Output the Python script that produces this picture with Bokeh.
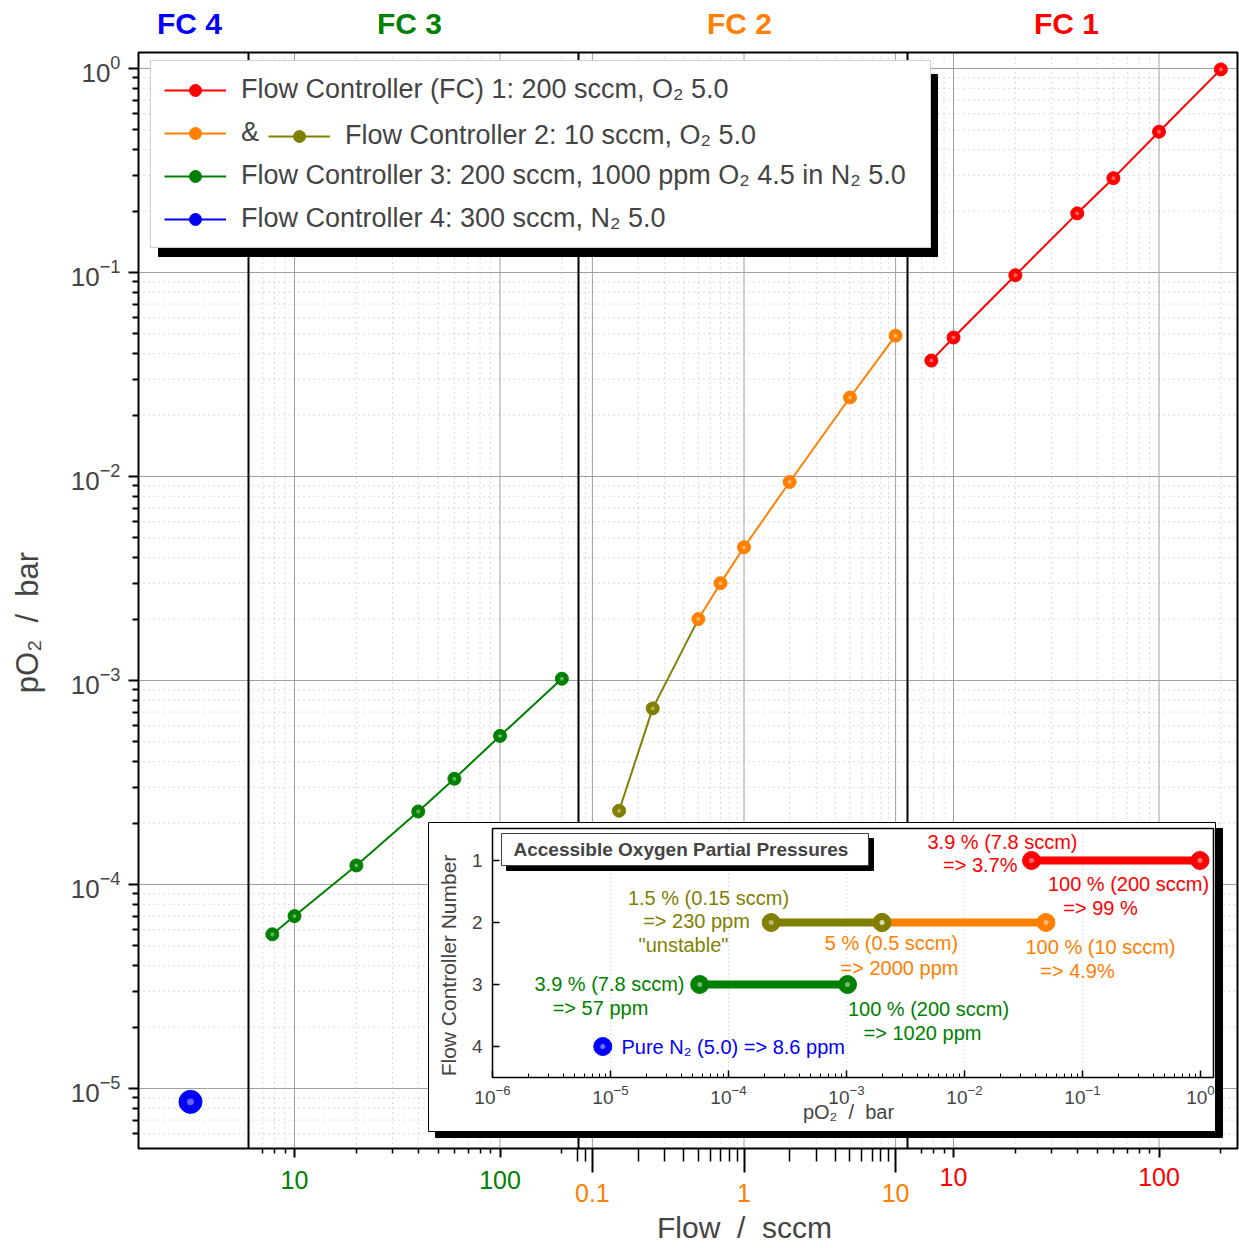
import math
from bokeh.plotting import figure
from bokeh.models import (Range1d, LogScale, LinearScale, LogAxis, LinearAxis, FixedTicker,
                          Label, Legend, LegendItem, ColumnDataSource)
from bokeh.embed import file_html
from bokeh.resources import INLINE
from bokeh.core.properties import value

FONT = "Liberation Sans"
RED, ORANGE, OLIVE, GREEN, BLUE = "#ff0000", "#ff8000", "#808000", "#008000", "#0000ff"
GRID, MINOR = "#a0a0a0", "#b4b4b4"
NB = "\u00a0"

# ---------------- data ----------------
fc1_flow = [7.8, 10, 20, 40, 60, 100, 200]
fc1_po2 = [0.037, 0.048, 0.097, 0.195, 0.29, 0.49, 0.99]
fc2_flow = [0.5, 0.7, 1, 2, 5, 10]
fc2_po2 = [0.0020, 0.0030, 0.0045, 0.0094, 0.0244, 0.049]
fc2u_flow = [0.15, 0.25, 0.5]            # "unstable" low-flow part of FC 2
fc2u_po2 = [0.00023, 0.00073, 0.0020]
fc3_flow = [7.8, 10, 20, 40, 60, 100, 200]
fc3_po2 = [5.7e-5, 7.0e-5, 1.24e-4, 2.28e-4, 3.3e-4, 5.35e-4, 1.02e-3]
fc4_flow = [300]
fc4_po2 = [8.6e-6]

legend_labels = ["Flow Controller (FC) 1: 200 sccm, O\u2082 5.0",
                 "&",
                 "Flow Controller 3: 200 sccm, 1000 ppm O\u2082 4.5 in N\u2082 5.0",
                 "Flow Controller 4: 300 sccm, N\u2082 5.0"]
legend_label_fc2 = "Flow Controller 2: 10 sccm, O\u2082 5.0"
fc_titles = ["FC 4", "FC 3", "FC 2", "FC 1"]
x_title = "Flow" + NB + " / " + NB + "sccm"
y_title = "pO\u2082" + NB + " / " + NB + "bar"

y_ticks = [1e-5, 1e-4, 1e-3, 1e-2, 1e-1, 1.0]
fc3_ticks, fc3_tick_labels = [10, 100], ["10", "100"]
fc2_ticks, fc2_tick_labels = [0.1, 1, 10], ["0.1", "1", "10"]
fc1_ticks, fc1_tick_labels = [10, 100], ["10", "100"]
inset_x_ticks = [1e-6, 1e-5, 1e-4, 1e-3, 1e-2, 1e-1, 1.0]
inset_fc_numbers = [1, 2, 3, 4]
inset_title = "Accessible Oxygen Partial Pressures"
inset_x_title = "pO\u2082" + NB + " / " + NB + "bar"
inset_y_title = "Flow Controller Number"
inset_notes = [
    ("3.9 % (7.8 sccm)", 1002, 841, "center", RED),
    ("=> 3.7%", 1017, 864, "right", RED),
    ("100 % (200 sccm)", 1128, 883, "center", RED),
    ("=> 99 %", 1100, 907, "center", RED),
    ("1.5 % (0.15 sccm)", 708, 897, "center", OLIVE),
    ("=> 230 ppm", 696, 920, "center", OLIVE),
    ('"unstable"', 683, 944, "center", OLIVE),
    ("5 % (0.5 sccm)", 891, 942, "center", ORANGE),
    ("=> 2000 ppm", 899, 967, "center", ORANGE),
    ("100 % (10 sccm)", 1100, 946, "center", ORANGE),
    ("=> 4.9%", 1077, 970, "center", ORANGE),
    ("3.9 % (7.8 sccm)", 684, 983, "right", GREEN),
    ("=> 57 ppm", 600, 1007, "center", GREEN),
    ("100 % (200 sccm)", 928, 1008, "center", GREEN),
    ("=> 1020 ppm", 922, 1032, "center", GREEN),
    ("Pure N\u2082 (5.0) => 8.6 ppm", 621, 1046, "left", BLUE),
]

# ---------------- layout (page pixels; the frame covers the whole canvas) ----------------
W, H = 1239, 1248
FL, FT, FR, FB = 138, 52, 1237, 1148          # plot box
Y_DEC_PX, Y_ONE_PX = 204.0, 68
def y_at(py):
    return 10 ** ((Y_ONE_PX - py) / Y_DEC_PX)
Y_LO, Y_HI = y_at(FB), y_at(FT)

def log_range(anchor_px, anchor_val, ppd):
    l = math.log10(anchor_val)
    return Range1d(start=10 ** (l - anchor_px / ppd), end=10 ** (l + (W - anchor_px) / ppd))

SEG_SCALES = {"fc4": (190, 300, 205.5), "fc3": (294, 10, 205.5),
              "fc2": (743.5, 1, 151.6), "fc1": (953, 10, 205.5),
              "ix": (492, 1e-6, 118.0)}
SEP_PX = [248, 578, 907]
SEG_CENTERS = [189, 409, 739, 1066]
IY_ONE_PX, IY_PPU = 860, 62.0

def minors(lo, hi):
    out = []
    for d in range(-7, 3):
        for m in range(2, 10):
            v = round(m * 10.0 ** d, 10)
            if lo <= v <= hi:
                out.append(v)
    return out

p = figure(frame_width=W, frame_height=H, x_range=Range1d(0, W),
           y_range=Range1d(y_at(H), y_at(0)), y_axis_type="log",
           output_backend="svg", toolbar_location=None, tools="", min_border=0)
p.title.visible = False
p.background_fill_color = "white"
p.border_fill_color = "white"
p.outline_line_color = None
p.xaxis.visible = False
p.xgrid.visible = False
p.ygrid.visible = False

for name, (apx, aval, ppd) in SEG_SCALES.items():
    p.extra_x_ranges[name] = log_range(apx, aval, ppd)
    p.extra_x_scales[name] = LogScale()
p.extra_y_ranges["py"] = Range1d(start=H, end=0)
p.extra_y_scales["py"] = LinearScale()
p.extra_y_ranges["iy"] = Range1d(start=1 + (H - IY_ONE_PX) / IY_PPU, end=1 + (0 - IY_ONE_PX) / IY_PPU)
p.extra_y_scales["iy"] = LinearScale()

# ---------------- grid lines (limited to the plot box) ----------------
y_minor = minors(Y_LO, Y_HI)
p.segment(x0=FL, x1=FR, y0=y_minor, y1=y_minor, line_color=MINOR, line_dash="1 4")
p.segment(x0=FL, x1=FR, y0=y_ticks, y1=y_ticks, line_color=GRID, line_width=1)

seg_defs = [("fc3", fc3_ticks, fc3_tick_labels, minors(6.5, 240), GREEN, 9, 5, 13),
            ("fc2", fc2_ticks, fc2_tick_labels, minors(0.079, 11.5), ORANGE, 24, 13, 11),
            ("fc1", fc1_ticks, fc1_tick_labels, minors(6.5, 230), RED, 9, 5, 10)]
for name, major, labels, minor, col, tout, mout, stand in seg_defs:
    p.segment(x0=minor, x1=minor, y0=Y_LO, y1=Y_HI, x_range_name=name,
              line_color=MINOR, line_dash="1 4")
    p.segment(x0=major, x1=major, y0=Y_LO, y1=Y_HI, x_range_name=name,
              line_color=GRID, line_width=1)

p.segment(x0=SEP_PX, x1=SEP_PX, y0=FT, y1=FB, y_range_name="py",
          line_color="black", line_width=2)
p.quad(left=FL, right=FR, top=FT, bottom=FB, y_range_name="py",
       fill_color=None, line_color="black", line_width=2)

# ---------------- axes ----------------
ya = p.yaxis[0]
ya.fixed_location = FL
ya.ticker = FixedTicker(ticks=y_ticks, minor_ticks=y_minor)
ya.axis_line_color = None
ya.major_tick_out, ya.major_tick_in = 10, 0
ya.minor_tick_out, ya.minor_tick_in = 6, 0
ya.major_tick_line_width = 2
ya.minor_tick_line_width = 2
ya.major_label_text_font = FONT
ya.major_label_text_font_size = "26px"
ya.major_label_standoff = 8

for name, major, labels, minor, col, tout, mout, stand in seg_defs:
    ax = LinearAxis(x_range_name=name, fixed_location=Y_LO,
                    ticker=FixedTicker(ticks=major, minor_ticks=minor),
                    major_label_overrides={t: l for t, l in zip(major, labels)},
                    axis_line_color=None, major_tick_out=tout, major_tick_in=0,
                    minor_tick_out=mout, minor_tick_in=0,
                    major_tick_line_width=2, minor_tick_line_width=1.5,
                    major_label_text_color=col, major_label_text_font=FONT,
                    major_label_text_font_size="25px", major_label_standoff=stand)
    p.add_layout(ax, "below")

p.add_layout(Label(x=744, y=1227, y_range_name="py", text=x_title, text_font=FONT,
                   text_font_size="30px", text_align="center", text_baseline="middle"))
p.add_layout(Label(x=27, y=622, y_range_name="py", text=y_title, angle=math.pi / 2,
                   text_font=FONT, text_font_size="31px", text_align="center",
                   text_baseline="middle"))
for t, cx, col in zip(fc_titles, SEG_CENTERS, [BLUE, GREEN, ORANGE, RED]):
    p.add_layout(Label(x=cx, y=23, y_range_name="py", text=t, text_color=col,
                       text_font=FONT, text_font_size="30px", text_font_style="bold",
                       text_align="center", text_baseline="middle"))

# ---------------- data series ----------------
def series(xs, ys, rname, color, size=13, line=True, marks=None):
    out = []
    if line:
        out.append(p.line(xs, ys, x_range_name=rname, line_color=color, line_width=2))
    mx, my = (xs, ys) if marks is None else marks
    out.append(p.scatter(mx, my, x_range_name=rname, size=size, fill_color=color, line_color=color))
    p.scatter(mx, my, x_range_name=rname, size=size * 0.3, fill_color="white",
              fill_alpha=0.4, line_color=None)
    return out

r_fc4_leg = series(fc4_flow * 2, fc4_po2 * 2, "fc4", BLUE)   # legend proxy, hidden under the FC 4 ball
r_fc1 = series(fc1_flow, fc1_po2, "fc1", RED)
r_fc2u = series(fc2u_flow, fc2u_po2, "fc2", OLIVE, marks=(fc2u_flow[:-1], fc2u_po2[:-1]))
r_fc2 = series(fc2_flow, fc2_po2, "fc2", ORANGE)
r_fc3 = series(fc3_flow, fc3_po2, "fc3", GREEN)
series(fc4_flow, fc4_po2, "fc4", BLUE, size=23, line=False)

# ---------------- legend ----------------
LEG_LEFT, LEG_TOP = 150, 66
LEG_PAD, LEG_ROW, LEG_SP = 13, 30, 12
LEG_GLYPH_W, LEG_STANDOFF, LEG_LABEL_W = 62, 15, 676
LEG_W = 2 * LEG_PAD + LEG_GLYPH_W + LEG_STANDOFF + LEG_LABEL_W
LEG_H = 2 * LEG_PAD + 4 * LEG_ROW + 3 * LEG_SP
SHADOW = 8
p.quad(left=LEG_LEFT + SHADOW, right=LEG_LEFT + LEG_W + SHADOW,
       top=LEG_TOP + SHADOW, bottom=LEG_TOP + LEG_H + SHADOW,
       y_range_name="py", fill_color="black", line_color="black")

leg_common = dict(glyph_width=LEG_GLYPH_W, glyph_height=LEG_ROW, label_height=LEG_ROW,
                  label_standoff=LEG_STANDOFF, label_text_font=FONT,
                  label_text_font_size="27px", margin=0)
legend = Legend(items=[LegendItem(label=legend_labels[0], renderers=r_fc1),
                       LegendItem(label=legend_labels[1], renderers=r_fc2),
                       LegendItem(label=legend_labels[2], renderers=r_fc3),
                       LegendItem(label=legend_labels[3], renderers=r_fc4_leg)],
                location=(LEG_LEFT, H - LEG_TOP - LEG_H),
                padding=LEG_PAD, spacing=LEG_SP, label_width=LEG_LABEL_W,
                border_line_color=GRID, border_line_width=1.5,
                background_fill_color="white", background_fill_alpha=1.0, **leg_common)
p.add_layout(legend)
row2_top = LEG_TOP + LEG_PAD + LEG_ROW + LEG_SP
legend2 = Legend(items=[LegendItem(label=legend_label_fc2, renderers=r_fc2u)],
                 location=(268, H - row2_top - LEG_ROW),
                 padding=0, spacing=0, border_line_color=None,
                 background_fill_alpha=0.0, **leg_common)
p.add_layout(legend2)

# ---------------- inset ----------------
IB = (428, 822, 1215, 1131)      # outer box
IF = (492, 828, 1213, 1077)      # inset frame
TB = (501, 833, 868, 865)        # inset title box
p.quad(left=IB[0] + 7, right=IB[2] + 7, top=IB[1] + 6, bottom=IB[3] + 6,
       y_range_name="py", fill_color="black", line_color="black")
p.quad(left=IB[0], right=IB[2], top=IB[1], bottom=IB[3],
       y_range_name="py", fill_color="white", line_color="black", line_width=1)
p.segment(x0=inset_x_ticks[1:-1], x1=inset_x_ticks[1:-1], y0=0.5, y1=4.5,
          x_range_name="ix", y_range_name="iy", line_color="#c8c8c8", line_dash="1 3")
p.quad(left=IF[0], right=IF[2], top=IF[1], bottom=IF[3],
       y_range_name="py", fill_color=None, line_color="black", line_width=1.5)
p.quad(left=TB[0] + 5, right=TB[2] + 5, top=TB[1] + 5, bottom=TB[3] + 5,
       y_range_name="py", fill_color="black", line_color="black")
p.quad(left=TB[0], right=TB[2], top=TB[1], bottom=TB[3],
       y_range_name="py", fill_color="white", line_color="#404040", line_width=1)
p.add_layout(Label(x=513, y=849, y_range_name="py", text=inset_title, text_font=FONT,
                   text_font_size="19px", text_font_style="bold", text_baseline="middle"))

bars = ColumnDataSource(dict(
    x0=[min(fc1_po2), min(fc2u_po2), min(fc2_po2), min(fc3_po2)],
    x1=[max(fc1_po2), min(fc2_po2), max(fc2_po2), max(fc3_po2)],
    y=[inset_fc_numbers[0], inset_fc_numbers[1], inset_fc_numbers[1], inset_fc_numbers[2]],
    color=[RED, OLIVE, ORANGE, GREEN]))
p.segment(x0="x0", x1="x1", y0="y", y1="y", line_color="color", line_width=8,
          source=bars, x_range_name="ix", y_range_name="iy")
ends = ColumnDataSource(dict(
    x=bars.data["x0"] + bars.data["x1"] + fc4_po2,
    y=bars.data["y"] + bars.data["y"] + [inset_fc_numbers[3]],
    color=bars.data["color"] + bars.data["color"] + [BLUE]))
p.scatter("x", "y", source=ends, size=18, fill_color="color", line_color="color",
          x_range_name="ix", y_range_name="iy")
p.scatter("x", "y", source=ends, size=5, fill_color="white", fill_alpha=0.45, line_color=None,
          x_range_name="ix", y_range_name="iy")

for align in ["left", "center", "right"]:
    rows = [n for n in inset_notes if n[3] == align]
    src = ColumnDataSource(dict(text=[r[0] for r in rows], x=[r[1] for r in rows],
                                y=[r[2] for r in rows], color=[r[4] for r in rows]))
    p.text(x="x", y="y", text="text", source=src, y_range_name="py",
           text_color="color", text_align=align, text_baseline="middle",
           text_font=value(FONT), text_font_size="20px")

iax = LogAxis(x_range_name="ix", y_range_name="iy", fixed_location=4.5,
              ticker=FixedTicker(ticks=inset_x_ticks, minor_ticks=minors(1.5e-6, 0.95)),
              axis_line_color=None, major_tick_in=7, major_tick_out=0,
              minor_tick_in=4, minor_tick_out=0, major_tick_line_width=1.5,
              major_label_text_font=FONT, major_label_text_font_size="19px",
              major_label_standoff=7)
p.add_layout(iax, "below")
iay = LinearAxis(x_range_name="ix", y_range_name="iy", fixed_location=1e-6,
                 ticker=FixedTicker(ticks=inset_fc_numbers, minor_ticks=[]),
                 axis_line_color=None, major_tick_in=7, major_tick_out=0,
                 minor_tick_in=0, minor_tick_out=0, major_tick_line_width=1.5,
                 major_label_text_font=FONT, major_label_text_font_size="19px",
                 major_label_standoff=10)
p.add_layout(iay, "left")
p.add_layout(Label(x=448, y=965, y_range_name="py", text=inset_y_title, angle=math.pi / 2,
                   text_font=FONT, text_font_size="21px", text_align="center",
                   text_baseline="middle"))
p.add_layout(Label(x=848, y=1111, y_range_name="py", text=inset_x_title, text_font=FONT,
                   text_font_size="20px", text_align="center", text_baseline="middle"))

open("out.html", "w").write(file_html(p, INLINE))
